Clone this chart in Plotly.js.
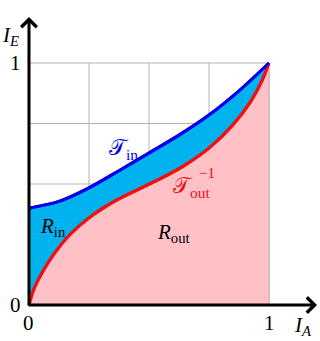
<!DOCTYPE html>
<html><head><meta charset="utf-8">
<script src="https://cdn.plot.ly/plotly-3.0.1.min.js"></script>
<style>html,body{margin:0;padding:0;background:#fff}#plot{width:320px;height:341px}</style>
</head><body><div id="plot"></div>
<script>
// Data
const gridVals = [0, 0.25, 0.5, 0.75, 1];
const tinX = [0, 0.125, 0.25, 0.375, 0.5, 0.625, 0.75, 0.875, 1];
const tinY = [0.40, 0.428, 0.484, 0.555, 0.628, 0.702, 0.785, 0.885, 1.0];
const toutX = [0, 0.02, 0.05, 0.1, 0.17, 0.25, 0.35, 0.45, 0.55, 0.65, 0.75, 0.85, 0.92, 0.97, 1];
const toutY = [0, 0.065, 0.125, 0.205, 0.29, 0.36, 0.425, 0.475, 0.523, 0.578, 0.648, 0.745, 0.835, 0.925, 1];
const xTickVals = [0, 1];
const xTickText = ['0', '1'];
const yTickVals = [0, 1];
const yTickText = ['0', '1'];

const FONT = 'Liberation Serif, DejaVu Serif, serif';
const gx = [], gy = [];
gridVals.forEach(v => { gx.push(v, v, null); gy.push(0, 1, null); });
gridVals.forEach(v => { gx.push(0, 1, null); gy.push(v, v, null); });

const traces = [
  {x: gx, y: gy, mode: 'lines', line: {color: '#b3b3b3', width: 1}, hoverinfo: 'skip'},
  {x: toutX, y: toutY, mode: 'lines', fill: 'tozeroy', fillcolor: '#ffc0c6',
   line: {color: '#f01010', width: 3, shape: 'spline', smoothing: 0.8}, hoverinfo: 'skip'},
  {x: tinX, y: tinY, mode: 'lines', fill: 'tonexty', fillcolor: '#00b2ee',
   line: {color: '#0000ee', width: 3, shape: 'spline', smoothing: 0.8}, hoverinfo: 'skip'},
  {x: [1, 1], y: [0, 1], mode: 'lines', line: {color: '#c8a8b8', width: 1}, hoverinfo: 'skip'},
  {x: toutX, y: toutY, mode: 'lines', line: {color: '#f01010', width: 3, shape: 'spline', smoothing: 0.8}, hoverinfo: 'skip'},
  {x: tinX, y: tinY, mode: 'lines', line: {color: '#0000ee', width: 3, shape: 'spline', smoothing: 0.8}, hoverinfo: 'skip'}
];

const ann = [];
function txt(x, y, t, color, size) {
  ann.push({x: x, y: y, xref: 'x', yref: 'y', text: t, showarrow: false,
    font: {family: FONT, size: size || 21, color: color || '#000'}, xanchor: 'center', yanchor: 'middle'});
}
// axes arrows
ann.push({x: 1.2, y: 0, ax: -0.008, ay: 0, xref: 'x', yref: 'y', axref: 'x', ayref: 'y', text: '',
  showarrow: true, arrowhead: 4, arrowsize: 1, arrowwidth: 3, arrowcolor: '#000'});
ann.push({x: 0, y: 1.19, ax: 0, ay: -0.008, xref: 'x', yref: 'y', axref: 'x', ayref: 'y', text: '',
  showarrow: true, arrowhead: 4, arrowsize: 1, arrowwidth: 3, arrowcolor: '#000'});
// tick labels
xTickVals.forEach((v, i) => txt(v, -0.075, xTickText[i]));
yTickVals.forEach((v, i) => txt(-0.056, v, yTickText[i]));
// axis titles
txt(-0.075, 1.11, '<i>I</i><sub><i>E</i></sub>');
txt(1.14, -0.088, '<i>I</i><sub><i>A</i></sub>');
// region labels
txt(0.392, 0.645, '𝒯<sub>in</sub>', '#0000ee', 22);
txt(0.679, 0.488, '𝒯<sub>out</sub>', '#f01010', 22);
txt(0.74, 0.545, '−1', '#f01010', 15);
txt(0.1, 0.322, '<i>R</i><sub>in</sub>');
txt(0.6, 0.298, '<i>R</i><sub>out</sub>');

const layout = {
  width: 320, height: 341, margin: {l: 0, r: 0, t: 0, b: 0},
  paper_bgcolor: '#fff', plot_bgcolor: '#fff', showlegend: false,
  xaxis: {range: [-0.1208, 1.2125], visible: false, fixedrange: true},
  yaxis: {range: [-0.1488, 1.2603], visible: false, fixedrange: true},
  annotations: ann
};
Plotly.newPlot('plot', traces, layout, {staticPlot: true});
</script></body></html>
